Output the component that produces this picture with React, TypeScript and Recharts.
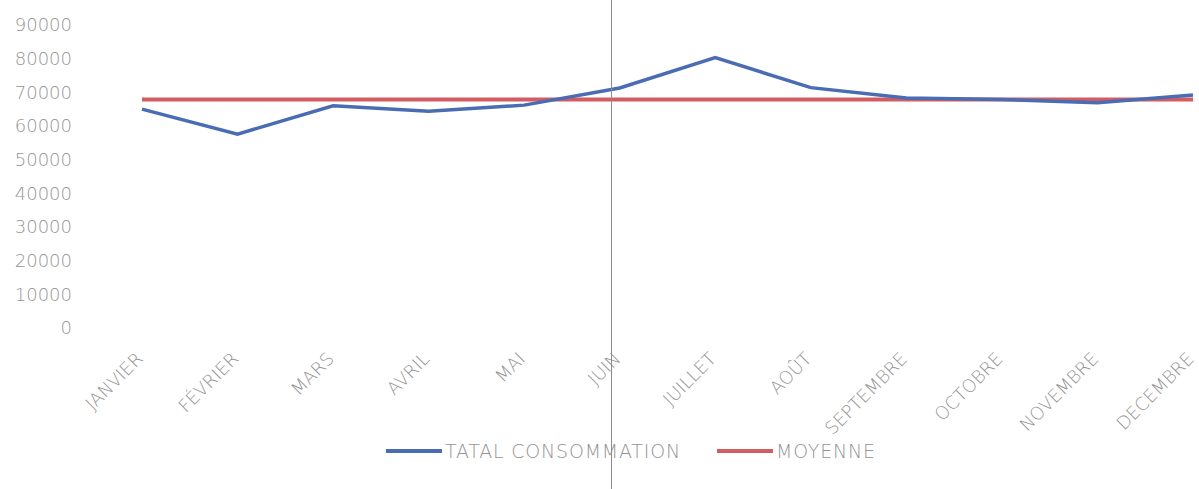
import { Legend, Line, LineChart, XAxis, YAxis } from "recharts";

const months = [
  "JANVIER",
  "FÉVRIER",
  "MARS",
  "AVRIL",
  "MAI",
  "JUIN",
  "JUILLET",
  "AOÛT",
  "SEPTEMBRE",
  "OCTOBRE",
  "NOVEMBRE",
  "DECEMBRE",
];

const totalConsommation = [
  65000, 57600, 66000, 64400, 66200, 71300, 80300, 71400, 68300, 67900, 66900,
  69200,
];

const moyenne = [
  67875, 67875, 67875, 67875, 67875, 67875, 67875, 67875, 67875, 67875, 67875,
  67875,
];

const yTicks = [0, 10000, 20000, 30000, 40000, 50000, 60000, 70000, 80000, 90000];

const BLUE = "#4a6cb3";
const RED = "#d35c62";
const TEXT = "#959595";
const FONT = "'DejaVu Sans', sans-serif";

const data = months.map((m, i) => ({
  month: m,
  total: totalConsommation[i],
  moyenne: moyenne[i],
}));

function MonthTick(props: any) {
  const { x, y, payload } = props;
  return (
    <g transform={`translate(${x},${y})`}>
      <text
        x={2}
        y={30}
        textAnchor="end"
        fill={TEXT}
        fontSize={18}
        fontFamily={FONT}
        fontWeight={200}
        transform="rotate(-45, 2, 30)"
      >
        {payload.value}
      </text>
    </g>
  );
}

function LegendContent() {
  const items = [
    { label: "TATAL CONSOMMATION", color: BLUE },
    { label: "MOYENNE", color: RED },
  ];
  return (
    <div
      style={{
        display: "flex",
        alignItems: "center",
        paddingLeft: 386,
        marginTop: -8,
        fontFamily: FONT,
        fontWeight: 200,
        fontSize: 19,
        letterSpacing: 0.8,
        color: TEXT,
        gap: 36,
      }}
    >
      {items.map((it) => (
        <div key={it.label} style={{ display: "flex", alignItems: "center" }}>
          <div
            style={{
              width: 56,
              height: 4,
              background: it.color,
              marginRight: 3,
            }}
          />
          <span>{it.label}</span>
        </div>
      ))}
    </div>
  );
}

export default function App() {
  return (
    <div
      style={{
        position: "absolute",
        left: 0,
        top: 0,
        width: 1199,
        height: 489,
        background: "#fff",
        overflow: "hidden",
      }}
    >
      <LineChart
        width={1199}
        height={489}
        data={data}
        margin={{ top: 25, right: 6, left: 0, bottom: 0 }}
      >
        <XAxis
          dataKey="month"
          axisLine={false}
          tickLine={false}
          tickSize={0}
          height={120}
          interval={0}
          tick={<MonthTick />}
        />
        <YAxis
          domain={[0, 90000]}
          ticks={yTicks}
          width={142}
          axisLine={false}
          tickLine={false}
          tickSize={0}
          tickMargin={70}
          tick={{
            fill: TEXT,
            fontSize: 18,
            fontFamily: FONT,
            fontWeight: 200,
          }}
        />
        <Legend
          verticalAlign="bottom"
          wrapperStyle={{ height: 41, left: 0, width: 1199 }}
          content={<LegendContent />}
        />
        <Line
          type="linear"
          dataKey="moyenne"
          name="MOYENNE"
          stroke={RED}
          strokeWidth={4}
          dot={false}
          isAnimationActive={false}
        />
        <Line
          type="linear"
          dataKey="total"
          name="TATAL CONSOMMATION"
          stroke={BLUE}
          strokeWidth={3.5}
          dot={false}
          isAnimationActive={false}
        />
      </LineChart>
      <div
        style={{
          position: "absolute",
          left: 611,
          top: 0,
          width: 1,
          height: 489,
          background: "#8c8c8c",
        }}
      />
    </div>
  );
}
